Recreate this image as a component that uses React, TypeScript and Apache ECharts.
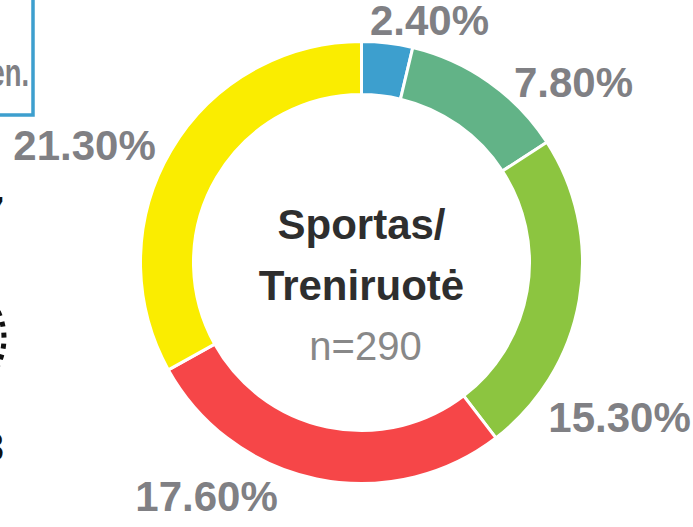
import React, { useEffect, useRef } from "react";
import * as echarts from "echarts";

// ---- data ----
const categories = ["Kategorija 1", "Kategorija 2", "Kategorija 3", "Kategorija 4", "Kategorija 5"];
const values = [2.4, 7.8, 15.3, 17.6, 21.3];
const titleLines = ["Sportas/", "Treniruotė"];
const sampleLabel = "n=290";

// ---- styles ----
const colors = ["#3D9FCE", "#62B387", "#8CC540", "#F64648", "#FAED00"];
const CX = 361.5;
const CY = 262.5;
// label centre offsets from the donut centre (px)
const LABEL_DX = [68, 212, 258, -155, -277];
const LABEL_DY = [-242, -180, 155, 234, -117];

export default function App() {
  const ref = useRef<HTMLDivElement>(null);
  useEffect(() => {
    if (!ref.current) return;
    const chart = echarts.init(ref.current, undefined, { renderer: "svg" });
    chart.setOption({
      animation: false,
      backgroundColor: "#ffffff",
      series: [
        {
          type: "pie",
          center: [CX, CY],
          radius: [168, 221],
          startAngle: 90,
          clockwise: true,
          avoidLabelOverlap: false,
          data: categories.map((c, i) => ({
            name: c,
            value: values[i],
            itemStyle: { color: colors[i] },
          })),
          itemStyle: { borderColor: "#ffffff", borderWidth: 3 },
          label: {
            show: true,
            position: "outside",
            formatter: (p: any) => p.value.toFixed(2) + "%",
            fontFamily: "Liberation Sans",
            fontWeight: "bold",
            fontSize: 42,
            color: "#808084",
          },
          labelLine: { show: false },
          labelLayout: (params: any) => {
            const i = params.dataIndex;
            return {
              x: CX + LABEL_DX[i],
              y: CY + LABEL_DY[i],
              align: "center",
              verticalAlign: "middle",
            };
          },
          emphasis: { disabled: true },
        },
      ],
      graphic: [
        {
          type: "text",
          x: CX,
          y: 224,
          style: {
            text: titleLines[0],
            fontFamily: "Liberation Sans",
            fontWeight: "bold",
            fontSize: 42,
            fill: "#2E2E2E",
            align: "center",
            verticalAlign: "middle",
          },
        },
        {
          type: "text",
          x: CX,
          y: 285,
          style: {
            text: titleLines[1],
            fontFamily: "Liberation Sans",
            fontWeight: "bold",
            fontSize: 42,
            fill: "#2E2E2E",
            align: "center",
            verticalAlign: "middle",
          },
        },
        {
          type: "text",
          x: CX + 4,
          y: 346,
          style: {
            text: sampleLabel,
            fontFamily: "Liberation Sans",
            fontSize: 40,
            fill: "#888888",
            align: "center",
            verticalAlign: "middle",
          },
        },
        // neighbouring-chart fragments at the left edge
        {
          type: "rect",
          shape: { x: -10, y: -10, width: 43, height: 125 },
          style: { fill: "none", stroke: "#3D9FCE", lineWidth: 3.5 },
        },
        {
          type: "text",
          x: 29,
          y: 73,
          scaleX: 0.72,
          style: {
            text: "mėn.",
            fontFamily: "Liberation Sans",
            fontWeight: "bold",
            fontSize: 38,
            fill: "#808084",
            align: "right",
            verticalAlign: "middle",
          },
        },
        {
          type: "text",
          x: 4,
          y: 211,
          style: {
            text: "7",
            fontFamily: "Liberation Sans",
            fontWeight: "bold",
            fontSize: 40,
            fill: "#111111",
            align: "right",
            verticalAlign: "middle",
          },
        },
        {
          type: "arc",
          shape: { cx: -60, cy: 338, r: 64, startAngle: -0.6, endAngle: 0.6 },
          style: { stroke: "#111111", lineWidth: 5, lineDash: [5, 6], fill: "none" },
        },
        {
          type: "text",
          x: 4,
          y: 447,
          style: {
            text: "3",
            fontFamily: "Liberation Sans",
            fontWeight: "bold",
            fontSize: 40,
            fill: "#111111",
            align: "right",
            verticalAlign: "middle",
          },
        },
      ],
    });
    return () => chart.dispose();
  }, []);
  return (
    <div
      ref={ref}
      style={{ position: "fixed", left: 0, top: 0, width: 693, height: 527 }}
    />
  );
}
